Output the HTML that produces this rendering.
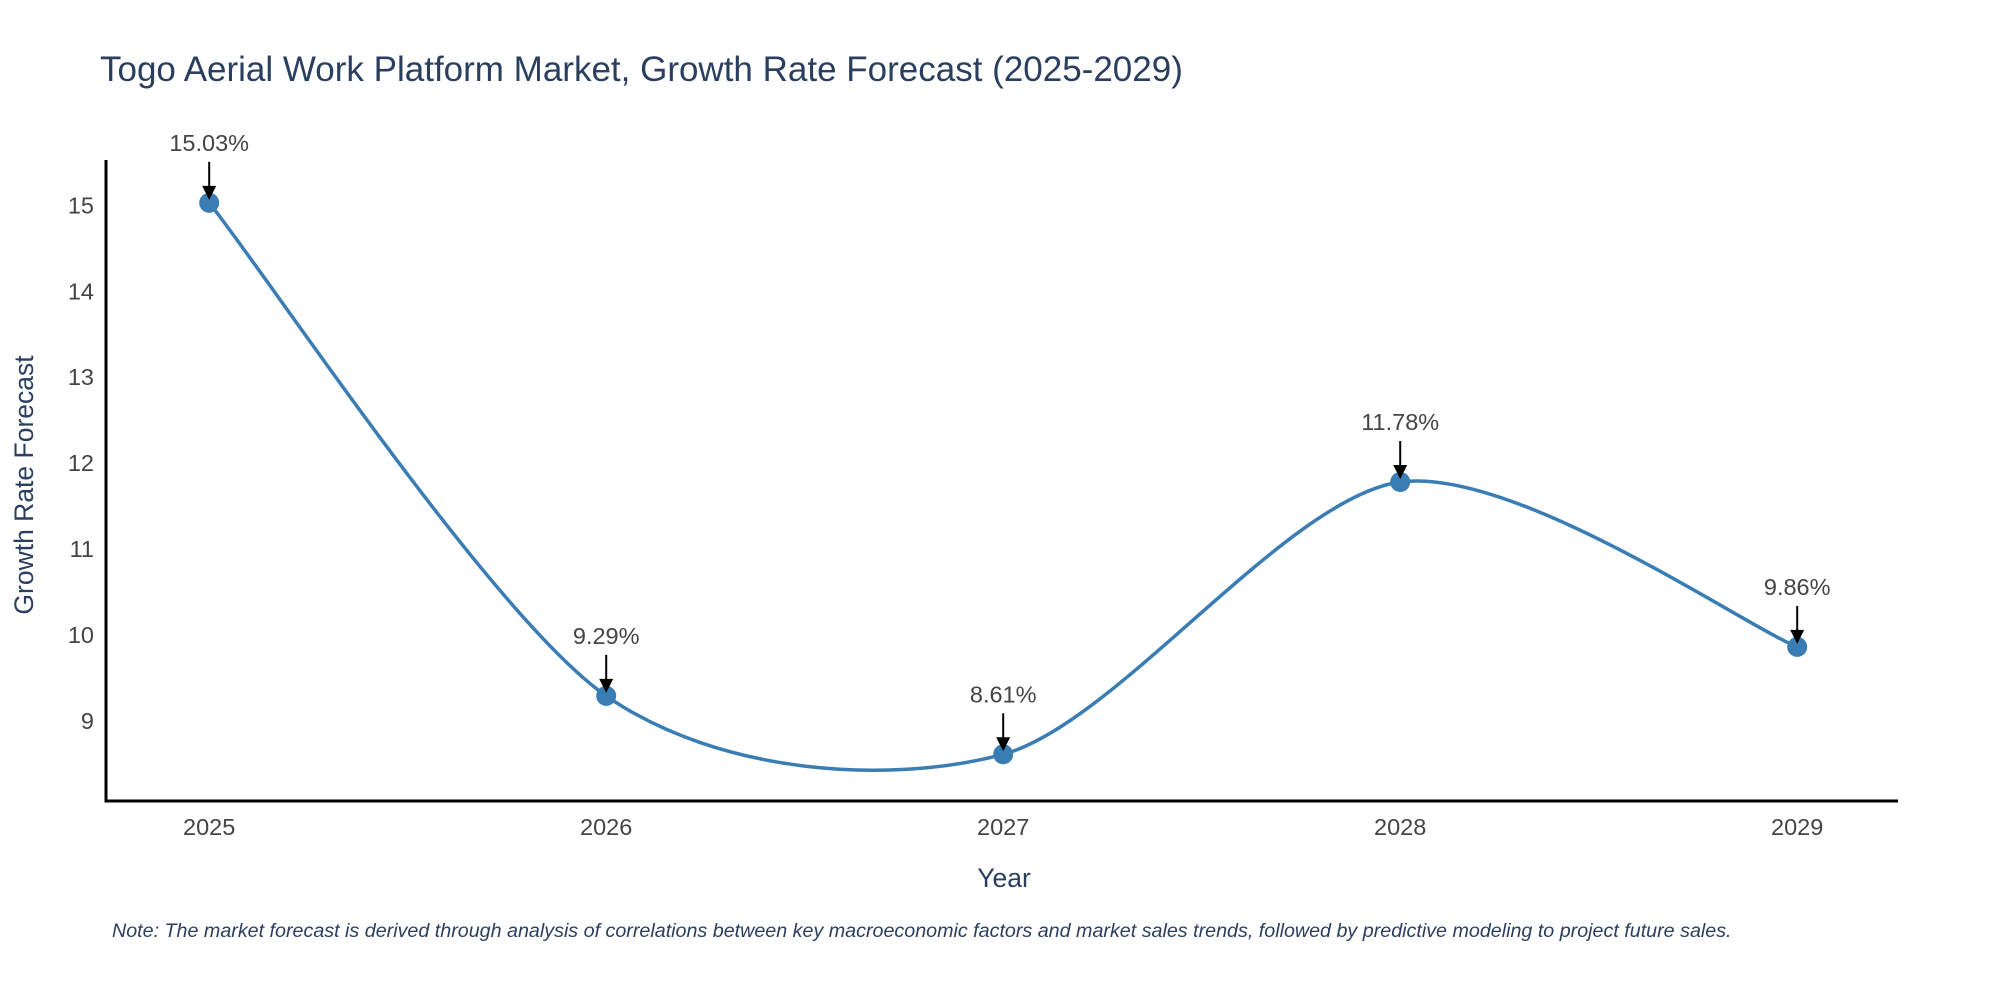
<!DOCTYPE html>
<html><head><meta charset="utf-8"><style>
html,body{margin:0;padding:0;background:#fff;}
svg{display:block;font-family:"Liberation Sans","DejaVu Sans",sans-serif;}
</style></head><body>
<svg id="chart" width="2000" height="1000">
<text x="100" y="81" font-size="35" fill="#2a3f5f">Togo Aerial Work Platform Market, Growth Rate Forecast (2025-2029)</text>
<g id="yticks"></g><g id="xticks"></g>
<line x1="106" y1="160" x2="106" y2="802" stroke="#000" stroke-width="3"/>
<line x1="104.5" y1="801" x2="1898" y2="801" stroke="#000" stroke-width="3"/>
<g id="series"></g>
<g id="annots"></g>
<text x="1004" y="887" font-size="26.5" fill="#2a3f5f" text-anchor="middle">Year</text>
<text transform="translate(33,485) rotate(-90)" font-size="26.5" fill="#2a3f5f" text-anchor="middle">Growth Rate Forecast</text>
<text x="112" y="937" font-size="19.7" font-style="italic" fill="#2a3f5f">Note: The market forecast is derived through analysis of correlations between key macroeconomic factors and market sales trends, followed by predictive modeling to project future sales.</text>
</svg>
<script>
const years = [2025, 2026, 2027, 2028, 2029];
const growth = [15.03, 9.29, 8.61, 11.78, 9.86];
const labels = ["15.03%", "9.29%", "8.61%", "11.78%", "9.86%"];
const yTicks = [9, 10, 11, 12, 13, 14, 15];

const NS = "http://www.w3.org/2000/svg";
const xScale = v => 209.2 + (v - 2025) * 397;
const yScale = v => 205.4 + (15 - v) * 85.9;
function mk(tag, attrs, parent, txt){
  const e = document.createElementNS(NS, tag);
  for (const k in attrs) e.setAttribute(k, attrs[k]);
  if (txt !== undefined) e.textContent = txt;
  parent.appendChild(e); return e;
}
const yt = document.getElementById('yticks');
yTicks.forEach(t => {
  const e = mk('text', {x: 94, y: yScale(t) + 8, 'font-size': 23.5, fill: '#444', 'text-anchor': 'end'}, yt, t);
  
  
});
const xt = document.getElementById('xticks');
years.forEach(y => {
  const e = mk('text', {x: xScale(y), y: 835, 'font-size': 23.5, fill: '#444', 'text-anchor': 'middle'}, xt, y);
  
  
});
const pts = years.map((y, i) => [xScale(y), yScale(growth[i])]);
let d = `M${pts[0][0]},${pts[0][1]}`;
const k = 7;
for (let i = 0; i < pts.length - 1; i++) {
  const p0 = pts[Math.max(0, i - 1)], p1 = pts[i], p2 = pts[i + 1], p3 = pts[Math.min(pts.length - 1, i + 2)];
  const c1 = [p1[0] + (p2[0] - p0[0]) / k, p1[1] + (p2[1] - p0[1]) / k];
  const c2 = [p2[0] - (p3[0] - p1[0]) / k, p2[1] - (p3[1] - p1[1]) / k];
  d += ` C${c1[0]},${c1[1]} ${c2[0]},${c2[1]} ${p2[0]},${p2[1]}`;
}
const s = document.getElementById('series');
const line = mk('path', {d: d, fill: 'none', stroke: '#3a7db4', 'stroke-width': 3.5}, s);


const an = document.getElementById('annots');
pts.forEach((p, i) => {
  const c = mk('circle', {cx: p[0], cy: p[1], r: 10, fill: '#3a7db4'}, s);
  
  
  const l = mk('line', {x1: p[0], y1: p[1] - 41, x2: p[0], y2: p[1] - 14, stroke: '#000', 'stroke-width': 2}, an);
  
  
  const h = mk('path', {d: `M${p[0]-7},${p[1]-17} L${p[0]+7},${p[1]-17} L${p[0]},${p[1]-3} Z`, fill: '#000'}, an);
  
  
  const t = mk('text', {x: p[0], y: p[1] - 52, 'font-size': 23.5, fill: '#444', 'text-anchor': 'middle'}, an, labels[i]);
  
  
});
</script>
</body></html>
